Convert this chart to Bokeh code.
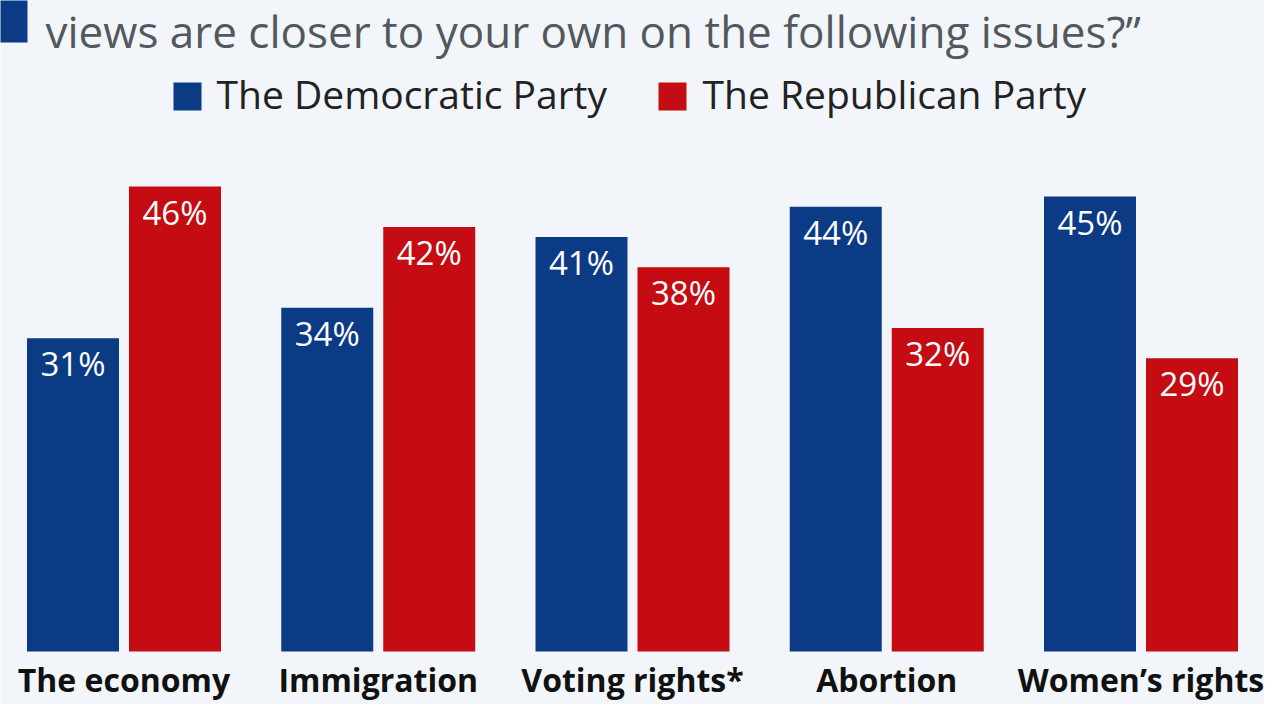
from bokeh.plotting import figure
from bokeh.models import ColumnDataSource, Range1d
from bokeh.core.properties import value
from bokeh.embed import file_html
from bokeh.resources import INLINE

# ---- data ----
categories = ["The economy", "Immigration", "Voting rights*", "Abortion", "Women\u2019s rights"]
democratic = [31, 34, 41, 44, 45]
republican = [46, 42, 38, 32, 29]
series_names = ["The Democratic Party", "The Republican Party"]
title_text = "views are closer to your own on the following issues?\u201d"

BLUE = "#0b3b84"
RED = "#c40c12"
BG = "#f2f6fa"

W, H = 1264, 704
PX_PER_GROUP = 254.25
BASE_PX = 659.0            # page y of bar baseline
PX_PER_UNIT = (BASE_PX - 194) / 46.0
# frame geometry (page offset 8px)
x0 = -(131.5 - 8) / PX_PER_GROUP
x1 = x0 + W / PX_PER_GROUP
y1 = (BASE_PX - 8) / PX_PER_UNIT
y0 = y1 - H / PX_PER_UNIT


def px_x(px):
    return x0 + (px - 8) / PX_PER_GROUP


def px_y(py):
    return y1 - (py - 8) / PX_PER_UNIT


p = figure(width=W, height=H, output_backend="svg", toolbar_location=None,
           x_range=Range1d(x0, x1), y_range=Range1d(y0, y1),
           min_border=0, min_border_left=0, min_border_right=0,
           min_border_top=0, min_border_bottom=0)
p.axis.visible = False
p.grid.visible = False
p.outline_line_color = None
p.background_fill_color = BG
p.border_fill_color = BG

idx = list(range(len(categories)))
off = 51 / PX_PER_GROUP
bw = 92 / PX_PER_GROUP
label_drop = 25.5 / PX_PER_UNIT   # bar top -> label middle

src = ColumnDataSource(dict(
    xd=[i - off for i in idx], xr=[i + off for i in idx],
    dem=democratic, rep=republican,
    dem_lab=[f"{v}%" for v in democratic], rep_lab=[f"{v}%" for v in republican],
    dem_ly=[v - label_drop for v in democratic], rep_ly=[v - label_drop for v in republican],
    cx=idx, cat=categories, cy=[px_y(687)] * len(idx),
))

p.vbar(x="xd", top="dem", bottom=0, width=bw, source=src, fill_color=BLUE, line_color=None)
p.vbar(x="xr", top="rep", bottom=0, width=bw, source=src, fill_color=RED, line_color=None)

p.text(x="xd", y="dem_ly", text="dem_lab", source=src, text_color="white",
       text_font=value("Open Sans"), text_font_size="33px", text_align="center",
       text_baseline="middle")
p.text(x="xr", y="rep_ly", text="rep_lab", source=src, text_color="white",
       text_font=value("Open Sans"), text_font_size="33px", text_align="center",
       text_baseline="middle")

# category labels
p.text(x="cx", y="cy", text="cat", source=src, text_color="#111111",
       text_font=value("Open Sans"), text_font_style="bold", text_font_size="32px",
       text_align="center", text_baseline="middle")

# title fragment and decorative marker
p.quad(left=[px_x(3)], right=[px_x(35)], top=[px_y(0)], bottom=[px_y(50)],
       fill_color=BLUE, line_color=None)
p.text(x=[px_x(53)], y=[px_y(38.5)], text=[title_text], text_color="#53585e",
       text_font=value("Open Sans"), text_font_size="44px", text_align="left",
       text_baseline="middle")

# legend
leg_sq_left = [181, 666]
leg_txt_left = [224, 710]
colors = [BLUE, RED]
p.quad(left=[px_x(v) for v in leg_sq_left], right=[px_x(v + 28) for v in leg_sq_left],
       top=[px_y(90)] * 2, bottom=[px_y(118)] * 2, fill_color=colors, line_color=None)
p.text(x=[px_x(v) for v in leg_txt_left], y=[px_y(101)] * 2, text=series_names,
       text_color="#222222", text_font=value("Open Sans"), text_font_size="39px",
       text_align="left", text_baseline="middle")

open("out.html", "w").write(file_html(p, INLINE))
